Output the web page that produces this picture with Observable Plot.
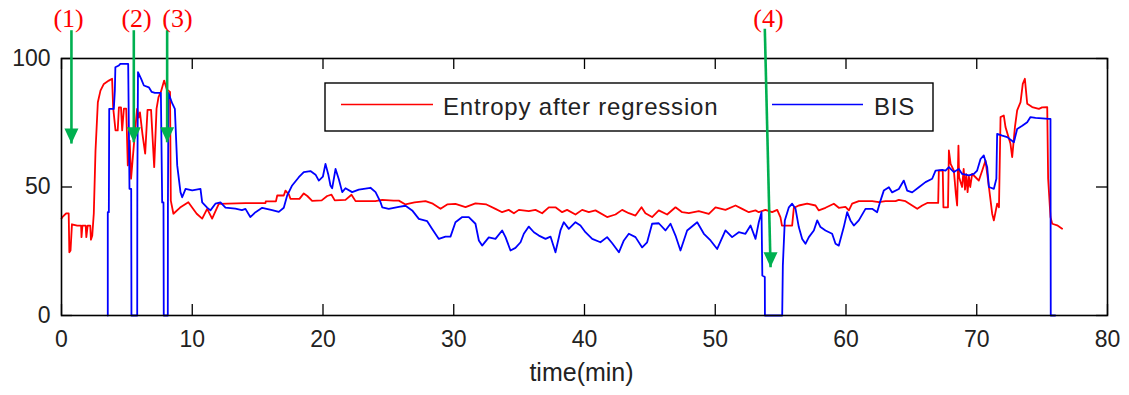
<!DOCTYPE html>
<html><head><meta charset="utf-8">
<script src="https://cdn.jsdelivr.net/npm/d3@7"></script>
<script src="https://cdn.jsdelivr.net/npm/@observablehq/plot@0.6"></script>
<style>
html,body{margin:0;padding:0;background:#fff;}
#chart{width:1129px;height:395px;}
</style></head><body><div id="chart"></div>
<script>
// ---- data (time in minutes, index value) ----
const entropyTime = [0.0,0.1,0.35,0.55,0.6,0.69,0.8,1.2,1.5,1.53,1.6,1.85,1.9,2.0,2.2,2.25,2.35,2.47,2.6,2.78,2.98,3.24,3.62,3.87,3.95,4.13,4.3,4.39,4.55,4.64,4.77,4.95,5.07,5.22,5.32,5.53,5.78,5.9,6.0,6.19,6.4,6.58,6.85,7.09,7.27,7.42,7.6,7.85,8.05,8.3,8.36,8.56,9.07,9.7,10.34,10.76,11.14,11.52,11.77,12.03,14.07,15.6,15.62,16.4,16.5,17.0,17.13,17.4,17.51,18.2,18.53,18.8,19.17,19.9,20.32,20.65,20.9,21.72,22.18,22.49,24.0,24.53,25.4,25.8,26.31,27.0,27.84,28.4,28.99,29.5,30.13,30.9,31.66,32.5,33.19,33.7,34.2,34.6,34.98,35.74,36.25,36.76,37.27,37.78,38.29,38.67,39.31,39.82,40.33,40.84,41.73,42.37,42.88,43.39,43.9,44.36,44.66,45.17,45.68,46.32,46.96,47.47,47.98,48.74,49.51,50.02,50.78,51.55,52.06,52.57,53.08,53.33,53.84,54.35,54.74,54.99,55.1,55.88,56.01,56.39,57.03,57.67,57.92,58.43,59.07,59.45,59.96,60.22,60.47,60.98,62.0,62.51,63.02,63.79,64.04,64.55,65.06,65.45,65.83,66.21,66.85,67.05,67.1,67.4,67.45,67.8,67.87,68.0,68.25,68.4,68.5,68.6,68.65,68.88,69.0,69.1,69.2,69.3,69.4,69.5,69.65,69.91,70.16,70.42,70.67,70.93,71.18,71.31,71.56,71.7,71.82,72.07,72.2,72.58,72.71,72.92,73.09,73.35,73.52,73.68,73.86,74.24,74.75,75.0,75.39,75.46,75.64,75.77,76.15,76.53];
const entropyValue = [37.7,38.5,39.7,39.7,24.6,25.3,35.5,35,35,30.5,35,35,30.5,35,35,29.5,31,39.7,64,83,87.5,90.1,91.4,92.1,81,72,72,81,81,72,80.5,80.5,58.4,68,53.2,66,80.4,77,79,70.7,63,80,80,57.7,80.5,85,87,91.4,88,87,44.7,39.6,42,44.1,39.6,37.7,41.5,37.7,40.5,43.4,43.7,43.7,44.4,44.4,46.7,46.7,48.6,47,45.4,45.4,47.5,46.5,44.6,44.8,46.5,47,44.8,45,47,44.5,44.5,45,44.7,44.7,43.2,44,44.5,43.5,41.5,43.2,43.4,42.2,43.6,43.2,41.5,40.2,41.1,39.8,41.1,40.6,41.1,39.8,42.1,42.1,40.2,41.1,39.3,41.1,40.2,40.9,38.3,39.3,41.1,39.8,38.9,42.1,39.8,38.3,40.9,39.3,42.1,40.2,39.8,40.6,39.5,42.1,41.1,42.8,41.5,40.2,40.9,40.2,41.1,40.2,41.1,38.2,35,35,41.9,42.8,43.5,42.8,40.9,41.9,43.5,41.9,42.3,40.9,43.5,44.5,44.5,44.1,44.5,44.5,45,44.5,42.8,41.5,42.8,43.8,43.8,43.8,56.4,56.4,42.1,42.1,64.2,59,56.4,47.4,42.8,66.1,53.8,50,57,49,55,48,54,50,55.1,53.8,52.5,56.4,60.3,50,39.6,37,43.5,42.1,77.2,77.8,73.3,66.8,61.6,73.3,79.8,83,90.1,92.1,82.4,81.1,80.4,81,81.1,53.2,38.3,35.7,35.1,33.8];
const bisTime = [3.54,3.54,3.62,3.65,4.0,4.08,4.12,4.39,4.5,5.1,5.2,5.33,5.35,5.79,5.8,5.85,6.1,6.3,6.68,6.9,7.14,7.6,7.7,7.8,7.82,8.13,8.14,8.18,8.47,8.67,8.85,9.1,9.23,9.49,10.0,10.63,10.76,11.14,11.39,11.77,12.16,12.54,13.3,13.8,14.07,14.44,14.84,15.35,16.11,16.62,17.0,17.26,17.64,18.15,18.53,19.04,19.43,19.68,19.99,20.19,20.4,20.57,20.7,20.96,21.21,21.47,21.72,22.23,22.74,23.63,24.02,24.4,24.53,25.03,25.8,26.31,26.82,27.33,27.97,28.35,28.86,29.37,29.75,30.13,30.65,31.15,31.66,31.92,32.17,32.68,33.19,33.7,33.96,34.34,34.72,35.11,35.36,35.74,36.13,36.51,37.02,37.4,37.78,38.16,38.42,38.8,39.31,39.69,40.07,40.59,41.22,41.73,42.12,42.63,43.01,43.39,43.9,44.41,44.79,45.17,45.68,46.19,46.58,46.96,47.34,47.85,48.62,49.13,49.64,50.15,50.78,51.29,51.8,52.31,52.7,53.08,53.33,53.54,53.6,53.79,53.8,55.12,55.17,55.32,55.63,55.88,56.14,56.39,56.65,56.9,57.16,57.54,57.8,58.05,58.43,58.94,59.2,59.45,59.83,60.09,60.34,60.6,60.98,61.49,62.0,62.38,62.64,62.89,63.28,63.53,64.04,64.42,64.68,65.06,65.57,66.08,66.59,66.85,67.36,67.61,67.87,68.25,68.63,68.88,69.4,69.78,70.03,70.29,70.54,70.8,70.93,71.31,71.5,71.56,71.95,72.33,72.84,73.09,73.48,73.86,74.11,74.5,75.52,75.64,75.66,76.0];
const bisValue = [0,40.2,40.2,80.4,80.4,87.5,96.6,97.3,97.9,97.9,49.3,49.3,0,0,50,94.7,92,89.5,88.8,87,86.6,86.6,44,44,0,0,43,86.6,82.5,80.4,58.4,48,46,49.3,48.7,49.3,44,42,40.9,43.5,44,42,41.6,41,41.5,38.3,40.2,41.9,41,40.3,41.9,46.7,50.6,53.8,55.8,56.2,54.8,52.5,54,59,55,50.6,49.5,57,53,48,49.5,48,49,49.7,48,44.1,42.1,41.5,42.3,42.7,40.9,37.6,36.7,33.7,29.8,30.7,30.7,36.3,38.3,38.3,35.7,29.2,27.2,30.4,29.8,33.1,30.5,25.3,26.3,28.5,31.8,34.6,32.4,31.1,29.8,30.7,24.6,33.1,36.3,33.7,36.3,35,32.4,29.8,28.5,30.5,28.1,24.6,29.2,31.8,30.5,26.5,28.5,35.7,35.9,33.1,35.7,31.1,25.3,33.1,36.3,31.8,29.2,25.9,33.1,30.5,32.4,31.8,35,29.8,36.3,40.2,15.6,15,0,0,19.5,37,42.1,43.5,41.5,34.4,29.8,27.9,30.5,33.1,37,34.4,33.1,31.8,27.9,27.2,34.4,40.2,37,35,37,41.5,41.5,40.2,44.7,48.6,49.9,47.9,49.2,52.5,48.6,47.9,49.9,51.9,53.2,56.4,56.7,56.4,57.7,55.8,57,55.1,54.5,55.1,56.4,60.9,62.3,57.7,50,49.3,53.2,70.7,70,69.4,67.4,72.6,73.8,75.2,77.2,76.9,76.5,76.5,0,0];
const seriesNames = ["Entropy after regression", "BIS"];
const seriesColors = ["#ff0000", "#0000ff"];
const xTicks = [0, 10, 20, 30, 40, 50, 60, 70, 80];
const yTicks = [0, 50, 100];
const xLabel = "time(min)";
// annotations: label, label time, arrow start (time, value), arrow tip (time, value)
const annLabels = ["(1)", "(2)", "(3)", "(4)"];
const annLabelTime = [0.54, 5.74, 8.87, 54.07];
const annTopTime = [0.76, 5.53, 8.08, 53.79];
const annTopValue = [111, 111, 111, 111.6];
const annTipTime = [0.76, 5.53, 8.08, 54.23];
const annTipValue = [66.9, 67.4, 67.4, 18.8];
const annLabelValue = 115.4;

// ---- layout ----
const W = 1129, H = 395, mL = 61, mR = 22, mT = 58, mB = 80;
const pw = W - mL - mR, ph = H - mT - mB, tickLen = 11;
const sans = "'Liberation Sans', Arial, Helvetica, sans-serif";

const entropy = entropyTime.map((t, i) => ({t, v: entropyValue[i]}));
const bis = bisTime.map((t, i) => ({t, v: bisValue[i]}));
const ann = annLabels.map((label, i) => ({label, lt: annLabelTime[i], t1: annTopTime[i], v1: annTopValue[i], t2: annTipTime[i], v2: annTipValue[i]}));
const head = {draw(ctx) { ctx.moveTo(-7, -15); ctx.lineTo(7, -15); ctx.lineTo(0, 0); ctx.closePath(); }};

const plot = Plot.plot({
  width: W, height: H, marginLeft: mL, marginRight: mR, marginTop: mT, marginBottom: mB,
  x: {domain: [0, 80]},
  y: {domain: [0, 100]},
  style: {fontFamily: sans, fontSize: "23px", color: "#222", background: "#fff", overflow: "visible"},
  marks: [
    Plot.line(entropy, {x: "t", y: "v", stroke: seriesColors[0], strokeWidth: 1.8}),
    Plot.line(bis, {x: "t", y: "v", stroke: seriesColors[1], strokeWidth: 1.8}),
    Plot.axisX({ticks: xTicks, tickSize: 0, tickPadding: 15, label: null, fontSize: 23}),
    Plot.axisY({ticks: yTicks, tickSize: 0, tickPadding: 11, label: null, fontSize: 23}),
    Plot.ruleX(xTicks, {insetTop: ph - tickLen, stroke: "#000", strokeWidth: 1.3}),
    Plot.ruleX(xTicks, {insetBottom: ph - tickLen, stroke: "#000", strokeWidth: 1.3}),
    Plot.ruleY(yTicks, {insetRight: pw - tickLen, stroke: "#000", strokeWidth: 1.3}),
    Plot.ruleY(yTicks, {insetLeft: pw - tickLen, stroke: "#000", strokeWidth: 1.3}),
    Plot.frame({stroke: "#000", strokeWidth: 1.6}),
    Plot.text([xLabel], {frameAnchor: "bottom", lineAnchor: "middle", dy: 57, dx: -3, fontSize: 25, fill: "#222"}),
    Plot.link(ann, {x1: "t1", y1: "v1", x2: "t2", y2: "v2", stroke: "#00b050", strokeWidth: 2.6}),
    Plot.dot(ann, {x: "t2", y: "v2", symbol: head, fill: "#00b050", stroke: null}),
    Plot.text(ann, {x: "lt", y: annLabelValue, text: "label", fill: "#ff0000", fontFamily: "'Liberation Serif', 'Times New Roman', serif", fontSize: 26})
  ]
});

// ---- legend box (drawn beneath the annotation arrows) ----
const lg = d3.create("svg:g").attr("font-family", sans).attr("font-size", 24).attr("letter-spacing", 0.8).attr("text-anchor", "start");
lg.append("rect").attr("x", 325).attr("y", 83).attr("width", 608).attr("height", 48)
  .attr("fill", "#fff").attr("stroke", "#000").attr("stroke-width", 1.4);
const items = [{x0: 341, x1: 433, tx: 443}, {x0: 772, x1: 863, tx: 874}];
items.forEach((it, i) => {
  lg.append("line").attr("x1", it.x0).attr("x2", it.x1).attr("y1", 104.5).attr("y2", 104.5)
    .attr("stroke", seriesColors[i]).attr("stroke-width", 1.6);
  lg.append("text").attr("x", it.tx).attr("y", 115).attr("fill", "#222").attr("text-anchor", "start").text(seriesNames[i]);
});
const linkNode = plot.querySelector('g[aria-label="link"]');
if (linkNode) plot.insertBefore(lg.node(), linkNode); else plot.appendChild(lg.node());

document.getElementById("chart").appendChild(plot);
</script>
</body></html>
